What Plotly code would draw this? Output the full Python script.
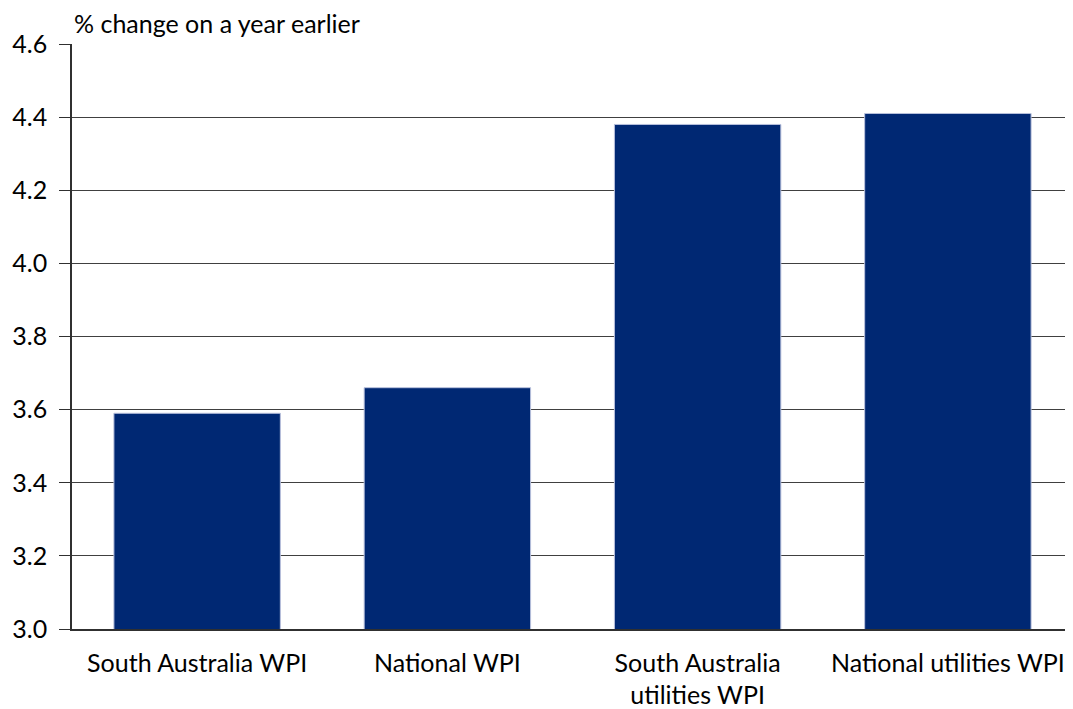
import plotly.graph_objects as go

categories = ["South Australia WPI", "National WPI", "South Australia<br>utilities WPI", "National utilities WPI"]
values = [3.59, 3.66, 4.38, 4.41]
y_ticks = [3.0, 3.2, 3.4, 3.6, 3.8, 4.0, 4.2, 4.4, 4.6]
y_label = "% change on a year earlier"

fig = go.Figure(go.Bar(
    x=categories, y=values,
    marker=dict(color="#002873", line=dict(color="#b8c0dc", width=1)),
    width=0.665,
))

fig.update_layout(
    width=1073, height=709,
    margin=dict(l=64, r=8, t=36, b=88),
    plot_bgcolor="white", paper_bgcolor="white",
    font=dict(family="Lato, Carlito, sans-serif", size=25, color="#000000"),
    showlegend=False,
    bargap=0.335,
    annotations=[dict(text=y_label, xref="paper", yref="paper", x=0, y=1.0,
                      xanchor="left", yanchor="bottom", yshift=4, showarrow=False,
                      font=dict(size=25, color="#000000"))],
)
fig.update_yaxes(range=[3.0, 4.6], tickvals=y_ticks, ticktext=[f"{v:.1f}" for v in y_ticks],
                 showgrid=True, gridcolor="#404040", gridwidth=1,
                 showline=True, linecolor="#303030", linewidth=1.5,
                 ticks="outside", ticklen=11, tickcolor="#303030", zeroline=False,
                 ticklabelstandoff=7, automargin=False)
fig.update_xaxes(showline=True, linecolor="#303030", linewidth=1.5, ticks="",
                 ticklabelstandoff=11, automargin=False)

fig.write_html("out.html")
